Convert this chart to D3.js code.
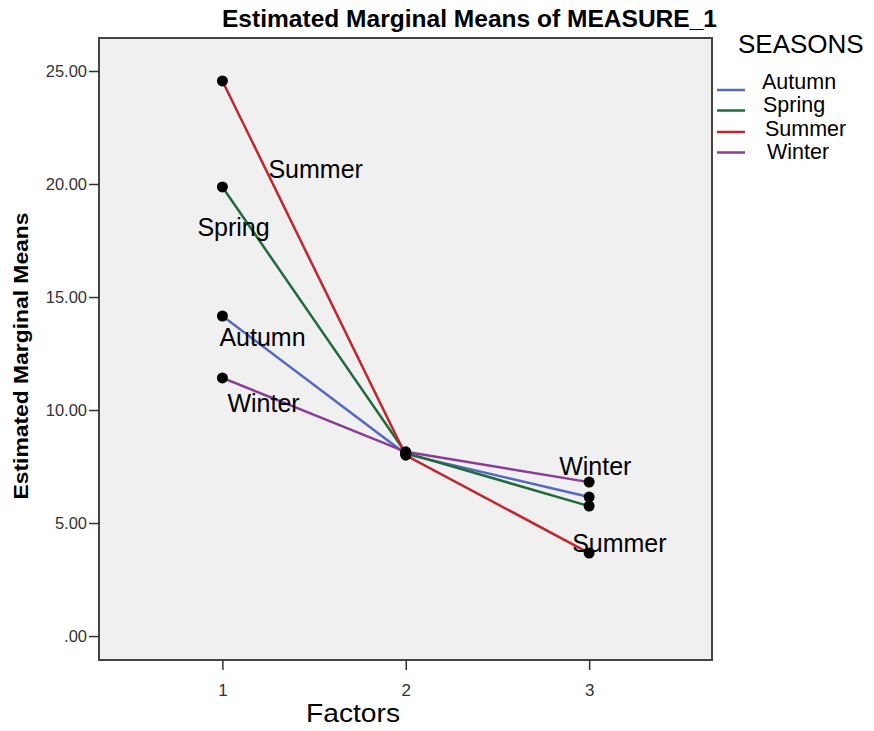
<!DOCTYPE html>
<html>
<head>
<meta charset="utf-8">
<script src="https://cdnjs.cloudflare.com/ajax/libs/d3/7.8.5/d3.min.js"></script>
<style>
  body { margin: 0; background: #fff; }
  text { font-family: "Liberation Sans", Arial, sans-serif; }
</style>
</head>
<body>
<div id="chart-area"></div>
<script>
// data
var factors = [1, 2, 3];
var seasons = ["Autumn", "Spring", "Summer", "Winter"];
var autumn = [14.16, 8.05, 6.15];
var spring = [19.87, 8.10, 5.75];
var summer = [24.56, 8.00, 3.67];
var winter = [11.42, 8.15, 6.81];
var yTicks = [0, 5, 10, 15, 20, 25];

// in-plot labels: [season, factor index]
var pointLabels = [["Summer", 0], ["Spring", 0], ["Autumn", 0], ["Winter", 0], ["Winter", 2], ["Summer", 2]];

var colors = { Autumn: "#5468c2", Spring: "#1f6b3c", Summer: "#c0262e", Winter: "#8a3c98" };
var values = { Autumn: autumn, Spring: spring, Summer: summer, Winter: winter };

var W = 874, H = 731;
var margin = { left: 99, right: 162, top: 38, bottom: 71 };
var width = W - margin.left - margin.right;
var height = H - margin.top - margin.bottom;

var svg = d3.select("#chart-area")
  .append("svg")
    .attr("width", W)
    .attr("height", H);

var g = svg.append("g")
    .attr("transform", "translate(" + margin.left + "," + margin.top + ")");

var x = d3.scaleLinear()
    .domain([0.327, 3.67])
    .range([0, width]);

var y = d3.scaleLinear()
    .domain([-1.06, 26.46])
    .range([height, 0]);

g.append("rect")
    .attr("width", width)
    .attr("height", height)
    .attr("fill", "#f0f0f0")
    .attr("stroke", "#444")
    .attr("stroke-width", 2);

// axes
var yAxis = d3.axisLeft(y)
    .tickValues(yTicks)
    .tickSize(10)
    .tickFormat(function (d) { return d === 0 ? ".00" : d3.format(".2f")(d); });
var yg = g.append("g").call(yAxis);
yg.select(".domain").remove();
yg.selectAll("line").attr("stroke", "#333").attr("stroke-width", 1.5);
yg.selectAll("text").attr("fill", "#333").attr("font-size", "16.5px").attr("x", -12)
    .attr("dy", "0.36em");

var xAxis = d3.axisBottom(x)
    .tickValues(factors)
    .tickSize(10)
    .tickFormat(d3.format("d"));
var xg = g.append("g")
    .attr("transform", "translate(0," + height + ")")
    .call(xAxis);
xg.select(".domain").remove();
xg.selectAll("line").attr("stroke", "#333").attr("stroke-width", 1.5);
xg.selectAll("text").attr("fill", "#333").attr("font-size", "17px").attr("y", 24)
    .attr("dy", "0.71em");

// lines
var line = d3.line()
    .x(function (d, i) { return x(factors[i]); })
    .y(function (d) { return y(d); });

seasons.forEach(function (s) {
  g.append("path")
      .datum(values[s])
      .attr("fill", "none")
      .attr("stroke", colors[s])
      .attr("stroke-width", 2.5)
      .attr("d", line);
});

seasons.forEach(function (s) {
  g.selectAll(".pt-" + s)
    .data(values[s])
    .enter()
    .append("circle")
      .attr("cx", function (d, i) { return x(factors[i]); })
      .attr("cy", function (d) { return y(d); })
      .attr("r", 5.5)
      .attr("fill", "#000");
});

// point labels (offsets from the point they name)
var labelOffsets = [[46, 97], [-25, 49], [-3, 30], [5, 34], [-30, -7], [-17, -1]];
pointLabels.forEach(function (p, k) {
  var v = values[p[0]][p[1]];
  g.append("text")
      .attr("x", x(factors[p[1]]) + labelOffsets[k][0])
      .attr("y", y(v) + labelOffsets[k][1])
      .attr("font-size", "25px")
      .attr("fill", "#000")
      .text(p[0]);
});

// titles
svg.append("text")
    .attr("x", 469.5)
    .attr("y", 27)
    .attr("text-anchor", "middle")
    .attr("font-size", "24px")
    .attr("font-weight", "bold")
    .attr("textLength", 495)
    .attr("lengthAdjust", "spacingAndGlyphs")
    .text("Estimated Marginal Means of MEASURE_1");

svg.append("text")
    .attr("transform", "translate(28,356) rotate(-90)")
    .attr("text-anchor", "middle")
    .attr("font-size", "21px")
    .attr("font-weight", "bold")
    .attr("textLength", 287)
    .attr("lengthAdjust", "spacingAndGlyphs")
    .text("Estimated Marginal Means");

svg.append("text")
    .attr("x", 353)
    .attr("y", 722)
    .attr("text-anchor", "middle")
    .attr("font-size", "26px")
    .attr("textLength", 94)
    .attr("lengthAdjust", "spacingAndGlyphs")
    .text("Factors");

// legend
svg.append("text")
    .attr("x", 738)
    .attr("y", 53)
    .attr("font-size", "26px")
    .text("SEASONS");

var legendX = [762, 763, 765, 767];
var legendY = [90, 110.5, 132, 152.5];
var legendBase = [89, 112, 136, 159];
seasons.forEach(function (s, i) {
  svg.append("line")
      .attr("x1", 717).attr("x2", 745)
      .attr("y1", legendY[i]).attr("y2", legendY[i])
      .attr("stroke", colors[s])
      .attr("stroke-width", 2.5);
  svg.append("text")
      .attr("x", legendX[i])
      .attr("y", legendBase[i])
      .attr("font-size", "21.5px")
      .text(s);
});
</script>
</body>
</html>
